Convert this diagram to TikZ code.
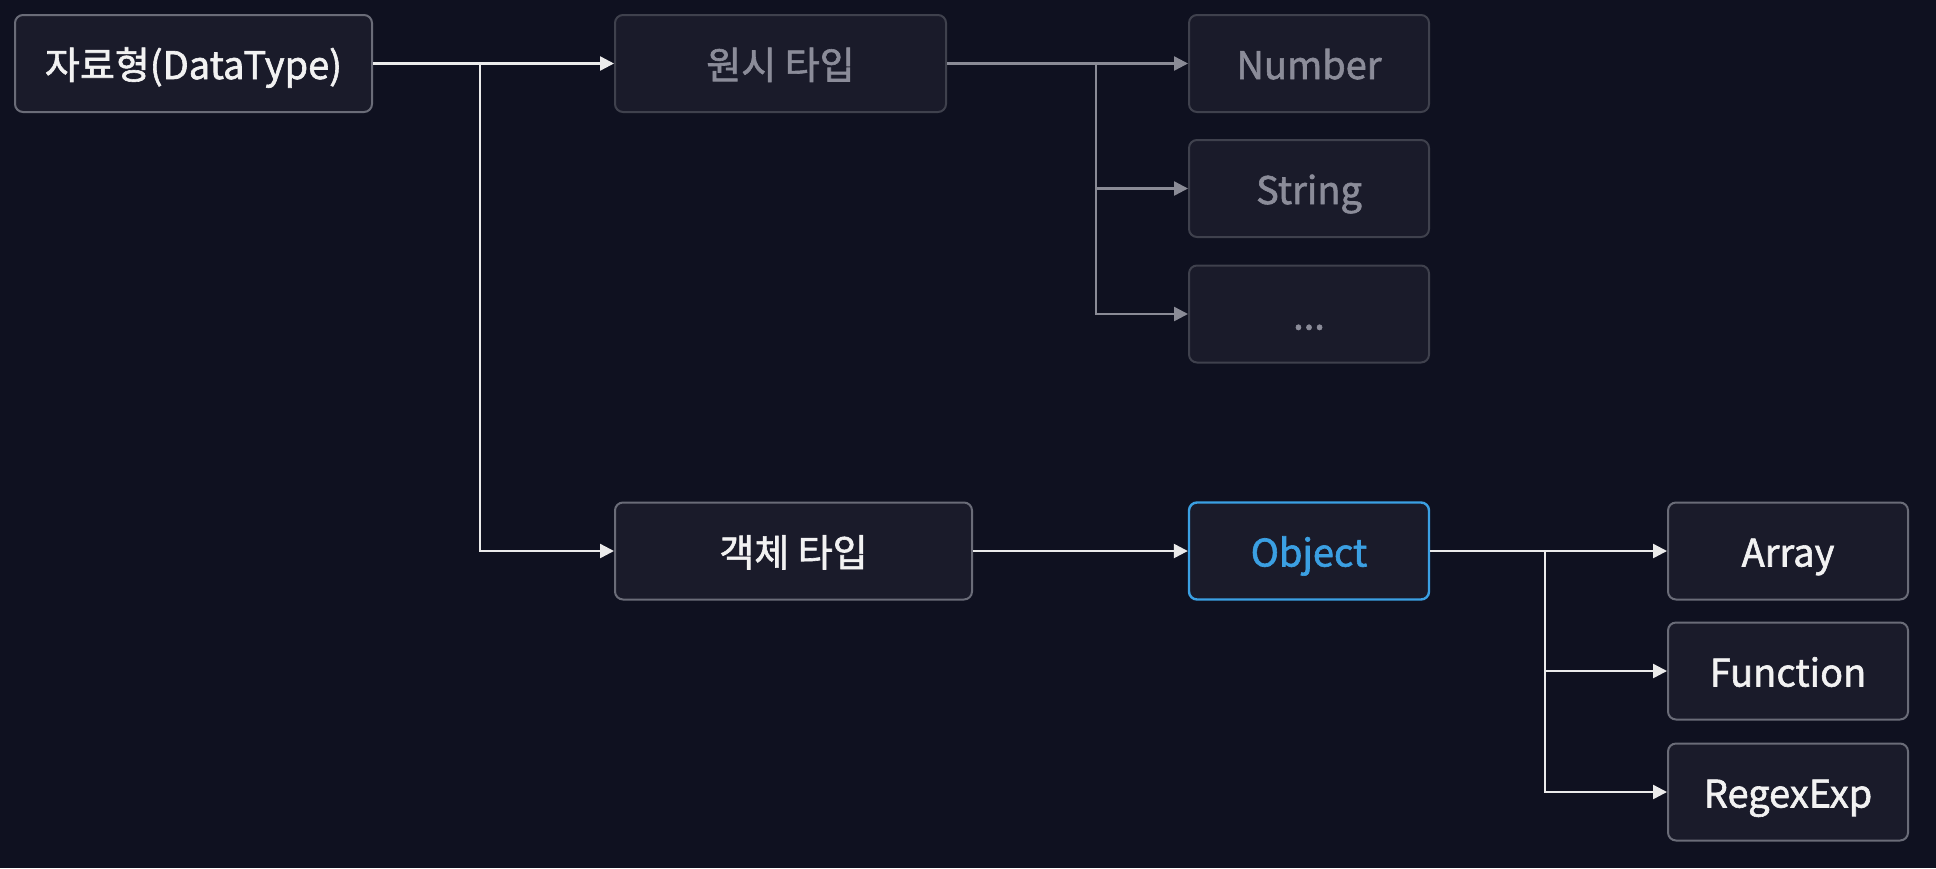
\documentclass[tikz,border=0pt]{standalone}
\usepackage{fontspec}
\setmainfont[FakeBold=1.6]{Noto Sans CJK KR}
\usetikzlibrary{positioning, arrows.meta}

\definecolor{bgcol}{HTML}{0F1120}
\definecolor{boxfill}{HTML}{1A1B2A}
\definecolor{edgelight}{HTML}{6A6C78}
\definecolor{edgedim}{HTML}{3F414D}
\definecolor{textdim}{HTML}{8B8C99}
\definecolor{linkdim}{HTML}{8A8B96}
\definecolor{objblue}{HTML}{3BA0E3}

\begin{document}
\begin{tikzpicture}[x=0.5pt, y=-0.5pt,
                    tbox/.style={draw=edgelight, line width=1pt, fill=boxfill, rounded corners=4pt,
                                 minimum height=48.5pt, text=white!95!black, inner sep=0pt,
                                 text height=17.5pt, text depth=2pt,
                                 font=\fontsize{19}{23}\selectfont},
                    dimbox/.style={tbox, draw=edgedim, text=textdim},
                    bluebox/.style={tbox, draw=objblue, line width=1.2pt, text=objblue},
                    wlink/.style={-{Triangle[length=7pt,width=7pt]}, line width=1.2pt, white!92!black},
                    glink/.style={wlink, linkdim}]
        \fill[bgcol] (0,0) rectangle (1936,868);
        \useasboundingbox (0,0) rectangle (1936,868);
        \draw (193.5,63.5) node[tbox, minimum width=178.5pt] (dtype) {자료형(DataType)}
              (780.5,63.5) node[dimbox, minimum width=165.5pt] (prim) {원시 타입}
              (1309,63.5) node[dimbox, minimum width=120pt] (num) {Number}
              (1309,188.5) node[dimbox, minimum width=120pt] (str) {String}
              (1309,314) node[dimbox, minimum width=120pt] (etc) {...}
              (793.5,551) node[tbox, minimum width=178.5pt] (objtype) {객체 타입}
              (1309,551) node[bluebox, minimum width=120pt] (obj) {Object}
              (1788,551) node[tbox, minimum width=120pt] (arr) {Array}
              (1788,671) node[tbox, minimum width=120pt] (func) {Function}
              (1788,792) node[tbox, minimum width=120pt] (regex) {RegexExp};
        \coordinate (split1) at (480,63.5);
        \coordinate (split2) at (1096,63.5);
        \coordinate (split3) at (1545,551);
        \draw[wlink] (dtype.east)--(prim.west);
        \draw[wlink] (split1)|-(objtype.west);
        \draw[glink] (prim.east)--(num.west);
        \draw[glink] (split2)|-(str.west);
        \draw[glink] (split2)|-(etc.west);
        \draw[wlink] (objtype.east)--(obj.west);
        \draw[wlink] (obj.east)--(arr.west);
        \draw[wlink] (split3)|-(func.west);
        \draw[wlink] (split3)|-(regex.west);
    \end{tikzpicture}
\end{document}
